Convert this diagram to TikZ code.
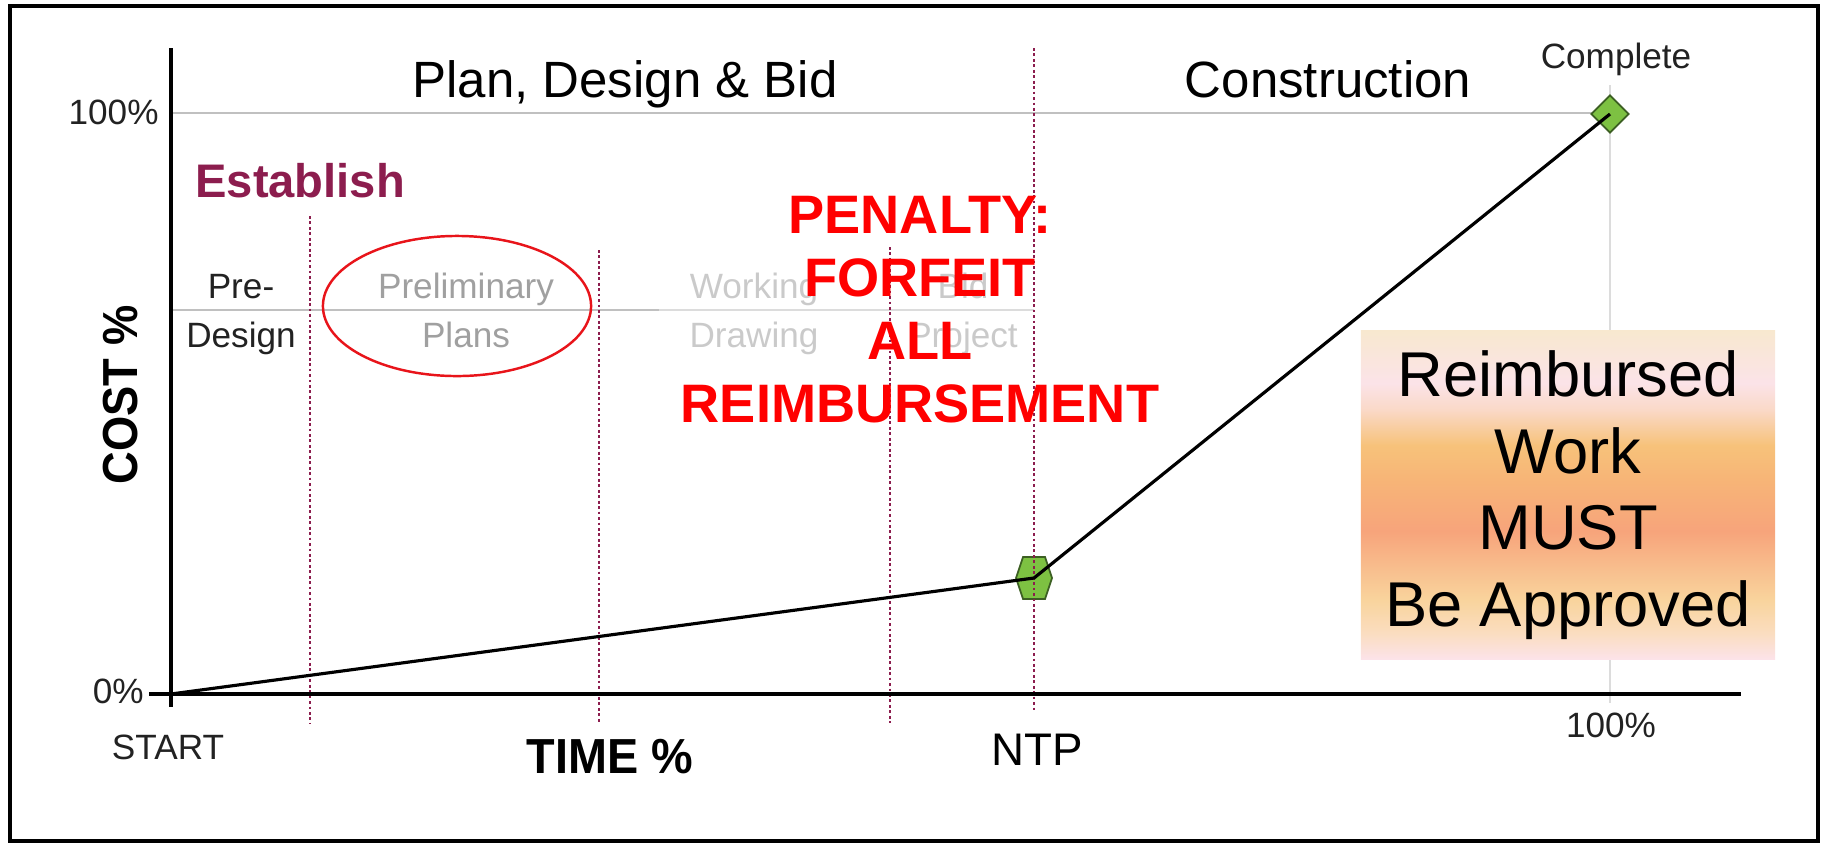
\documentclass[tikz,border=0pt]{standalone}
\usepackage{fontspec}
\setmainfont{Liberation Sans}
\usepackage{graphicx}
\usetikzlibrary{shapes.geometric}

\definecolor{phaseline}{RGB}{140,29,78}
\definecolor{gridgray}{RGB}{192,192,192}
\definecolor{gridlight}{RGB}{220,220,220}
\definecolor{phasegray}{RGB}{160,160,160}
\definecolor{tickgray}{RGB}{34,34,34}
\definecolor{markgreen}{RGB}{125,193,66}
\definecolor{markedge}{RGB}{60,95,35}
\definecolor{ovalred}{RGB}{232,20,26}
% colours of the approval box, bottom to top
\definecolor{shA}{RGB}{252,227,234}
\definecolor{shB}{RGB}{250,221,192}
\definecolor{shC}{RGB}{249,212,157}
\definecolor{shD}{RGB}{247,164,123}
\definecolor{shE}{RGB}{247,181,119}
\definecolor{shF}{RGB}{247,194,122}
\definecolor{shG}{RGB}{250,217,200}
\definecolor{shH}{RGB}{251,227,232}
\definecolor{shI}{RGB}{248,232,207}
\pgfdeclareverticalshading{approvalshade}{100bp}{color(0bp)=(shA); color(25bp)=(shA);
  color(29bp)=(shB); color(34bp)=(shC); color(44.5bp)=(shD); color(52.5bp)=(shE);
  color(57.5bp)=(shF); color(63bp)=(shG); color(67bp)=(shH); color(75bp)=(shI); color(100bp)=(shI)}

\begin{document}
\begin{tikzpicture}[x=0.01cm,y=0.01cm,
    axis/.style={line width=1.1pt},
    grid/.style={gridgray,line width=0.75pt},
    phasediv/.style={phaseline,line width=0.8pt,dash pattern=on 0.8pt off 0.75pt},
    phase/.style={align=center,font=\fontsize{10}{13.9}\selectfont},
    tick/.style={text=tickgray,font=\fontsize{10}{12}\selectfont},
    axislabel/.style={font=\bfseries\fontsize{14}{16}\selectfont},
    stage/.style={font=\fontsize{14.5}{17}\selectfont},
    marker/.style={draw=markedge,fill=markgreen,line width=0.5pt},
    costline/.style={line width=0.9pt},
    penalty/.style={text=red,align=center,font=\bfseries\fontsize{15.4}{17.9}\selectfont},
    approvalbox/.style={shading=approvalshade,minimum width=4.14cm,minimum height=3.29cm,
      inner sep=0pt,align=center,font=\fontsize{18}{21.8}\selectfont}]
  \useasboundingbox (0,0) rectangle (1825,844);
  \draw[line width=1.1pt] (10,3) rectangle (1818,838);

  % grid lines
  \draw[grid] (171,731) -- (1610,731);
  \draw[grid] (171,534) -- (1034,534);
  \draw[gridlight,line width=0.75pt] (1610,759) -- (1610,141);

  % phases of the design
  \node[phase,anchor=base,text=tickgray] (predesign) at (241,497) {Pre-\\Design};
  \node[phase,anchor=base,text=phasegray] (prelim) at (466,497) {Preliminary\\Plans};
  \node[phase,anchor=base,text=phasegray] (working) at (754,497) {Working\\Drawing};
  \node[phase,anchor=base,text=phasegray] (bid) at (963,497) {Bid\\Project};
  \fill[white,fill opacity=0.45] (659,399) rectangle (1183,672);

  % milestones
  \coordinate (start) at (171,150);
  \coordinate (ntp) at (1034,266);
  \filldraw[marker] (ntp) ++(-18,0) -- ++(7,21) -- ++(22,0) -- ++(7,-21)
    -- ++(-7,-21) -- ++(-22,0) -- cycle;
  \node[diamond,marker,minimum size=0.38cm,inner sep=0pt] (done) at (1610,730) {};

  % routine for phase limits
  \draw[phasediv] (310,628) -- (310,121);
  \draw[phasediv] (599,594) -- (599,121);
  \draw[phasediv] (890,597) -- (890,121);
  \draw[phasediv] (1034,796) -- (1034,134);

  \draw[axis] (171,796) -- (171,137);
  \draw[axis] (149,150) -- (1741,150);
  \draw[costline] (start) -- (ntp) -- (done.center);

  \node[draw=ovalred,line width=0.7pt,ellipse,minimum width=2.68cm,minimum height=1.40cm] (focus) at (457,538) {};

  \node[stage,anchor=base] (plan) at (625,747) {Plan, Design \& Bid};
  \node[stage,anchor=base] (build) at (1328,747) {Construction};
  \node[anchor=base west,text=phaseline,font=\bfseries\fontsize{13.4}{16}\selectfont] (establish) at (183,647) {Establish};

  \node[tick,anchor=east] (ylow) at (156,153) {0\%};
  \node[tick,anchor=east] (yhigh) at (171,732) {100\%};
  \node[tick,anchor=base] (xstart) at (168,85) {START};
  \node[tick,anchor=base] (xend) at (1611,107) {100\%};
  \node[tick,anchor=base] (complete) at (1616,776) {Complete};
  \node[anchor=base,font=\fontsize{13}{15}\selectfont] (ntplabel) at (1037,79) {NTP};
  \node[axislabel,anchor=base] (timelabel) at (610,71) {\scalebox{0.95}[1]{TIME \%}};
  \node[axislabel,rotate=90] (costlabel) at (121,449) {\scalebox{0.92}[1]{COST \%}};

  \node[penalty,anchor=base] (penalty) at (920,422) {PENALTY:\\FORFEIT\\ALL\\REIMBURSEMENT};
  \node[approvalbox] (approval) at (1568,349) {Reimbursed\\Work\\MUST\\Be Approved};
\end{tikzpicture}
\end{document}
